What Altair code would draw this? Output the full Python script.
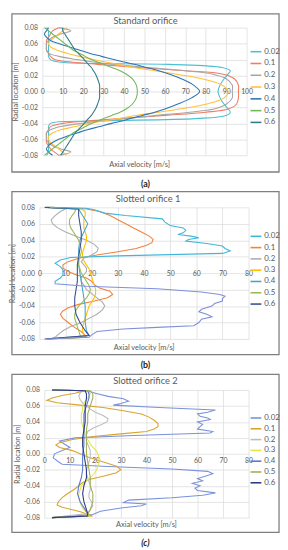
import altair as alt
import pandas as pd

FONT = "Lato"
TXT = "#595959"
GRID = "#D9D9D9"
BOX = "#7F7F7F"

SERIES = ["0.02", "0.1", "0.2", "0.3", "0.4", "0.5", "0.6"]

# ---------------- Panel (a): Standard orifice ----------------
A_Y = [0.08, 0.076, 0.072, 0.068, 0.064, 0.06, 0.056, 0.052, 0.048, 0.044, 0.04, 0.037, 0.034,
       0.03, 0.026, 0.022, 0.016, 0.008, 0.0, -0.008, -0.016, -0.022, -0.026, -0.03, -0.034,
       -0.037, -0.04, -0.044, -0.048, -0.052, -0.056, -0.06, -0.064, -0.068, -0.072, -0.076, -0.08]
A_002 = [2, 3, 3, 3, 3, 3, 3, 3, 3, 3, 4, 8, 62, 88, 92, 91, 89, 87, 86,
         87, 89, 91, 92, 90, 75, 25, 4, 3, 3, 3, 3, 3, 3, 3, 3, 3, 2]
A_01 = [8, 5, 4, 3, 2, 2, 2, 2, 3, 4, 6, 14, 27, 47, 70, 88, 94, 96, 96,
        96, 95, 91, 80, 60, 38, 22, 10, 4, 3, 2, 2, 2, 2, 3, 4, 6, 8]
A_02 = [8, 14, 9, 5, 3, 2, 2, 2, 3, 8, 17, 25, 35, 52, 70, 83, 90, 93, 93,
        93, 90, 84, 72, 56, 40, 29, 19, 9, 4, 2, 2, 2, 3, 5, 9, 14, 8]
A_03 = [12, 10, 8, 6, 4, 3, 4, 7, 12, 18, 25, 31, 37, 45, 55, 65, 78, 88, 91,
        89, 80, 67, 57, 46, 37, 30, 23, 16, 9, 5, 3, 3, 4, 6, 8, 10, 12]
A_04 = [3, 2, 1, 2, 4, 8, 13, 18, 23, 29, 35, 40, 45, 51, 57, 62, 68, 74, 77,
        73, 66, 60, 55, 49, 43, 39, 34, 28, 22, 17, 12, 8, 5, 3, 2, 3, 5]
A_05 = [1, 3, 5, 7, 9, 11, 13, 15, 18, 21, 24, 27, 30, 34, 38, 41, 44, 46, 46.5,
        46, 44, 41, 38, 34, 30, 27, 24, 21, 18, 15, 13, 11, 9, 7, 5, 3, 1]
A_06 = [10, 10, 11, 12, 13, 14, 15, 16, 17.5, 19, 20.5, 21.5, 22.5, 24, 25, 26, 27, 28, 28,
        28, 27, 26, 25, 24, 22.5, 21.5, 20.5, 19, 17.5, 16, 15, 14, 13, 12, 11, 10, 9]
A_COLORS = ["#4BC0D4", "#F07C62", "#A6A6A6", "#FFC23A", "#2E75B6", "#70B85A", "#2F7D8C"]

# ---------------- Panel (b): Slotted orifice 1  (radial location, velocity) ----------------
B_002 = [(0.08, 4), (0.079, 18), (0.077, 21), (0.073, 25), (0.070, 33), (0.066, 47), (0.062, 48),
         (0.058, 50), (0.055, 55), (0.052, 56), (0.049, 55), (0.047, 53), (0.045, 58), (0.043, 61),
         (0.041, 57), (0.039, 56), (0.036, 64), (0.033, 70), (0.030, 71), (0.027, 73), (0.024, 70),
         (0.021, 30), (0.019, 12), (0.016, 8), (0.012, 6), (0.008, 8), (0.004, 9), (-0.002, 9),
         (-0.006, 8), (-0.010, 6), (-0.013, 6), (-0.016, 18), (-0.019, 45), (-0.023, 62),
         (-0.026, 69), (-0.028, 71), (-0.031, 70), (-0.034, 70), (-0.037, 67), (-0.040, 66),
         (-0.044, 62), (-0.047, 61), (-0.050, 64), (-0.053, 66), (-0.056, 62), (-0.060, 61),
         (-0.064, 59), (-0.066, 45), (-0.068, 32), (-0.071, 22), (-0.075, 20), (-0.078, 19), (-0.08, 3)]
B_01 = [(0.08, 4), (0.078, 18), (0.075, 23), (0.07, 27), (0.065, 30), (0.06, 33), (0.055, 36),
        (0.05, 39), (0.045, 42), (0.041, 43.5), (0.037, 43), (0.034, 41), (0.03, 37), (0.026, 30),
        (0.022, 22), (0.018, 15), (0.014, 11), (0.01, 9), (0.006, 9), (0.002, 11), (-0.002, 14),
        (-0.006, 18), (-0.01, 20), (-0.014, 21), (-0.018, 23), (-0.022, 27), (-0.026, 28),
        (-0.03, 26), (-0.034, 21), (-0.038, 15), (-0.042, 11), (-0.046, 9), (-0.05, 8), (-0.055, 9),
        (-0.06, 11), (-0.065, 13), (-0.07, 15.5), (-0.074, 17), (-0.078, 18), (-0.08, 3)]
B_02 = [(0.08, 5), (0.078, 10), (0.075, 8), (0.07, 6), (0.065, 4.5), (0.06, 5), (0.055, 7),
        (0.05, 10), (0.045, 14), (0.04, 18), (0.035, 21), (0.03, 22.5), (0.026, 22), (0.022, 20),
        (0.018, 17), (0.014, 16), (0.01, 17), (0.006, 18), (0.002, 18), (-0.002, 17), (-0.006, 16),
        (-0.01, 16), (-0.015, 17), (-0.02, 18), (-0.025, 20), (-0.03, 22), (-0.035, 24), (-0.04, 25),
        (-0.045, 24), (-0.05, 22), (-0.055, 19), (-0.06, 16), (-0.065, 12), (-0.07, 9), (-0.075, 7),
        (-0.078, 6), (-0.08, 4)]
B_03 = [(0.08, 4), (0.078, 16), (0.075, 17.5), (0.07, 17.5), (0.065, 17), (0.06, 17), (0.055, 17),
        (0.05, 17.5), (0.045, 18), (0.04, 18), (0.035, 17.5), (0.03, 17), (0.025, 16.5), (0.02, 16.5),
        (0.015, 17), (0.01, 18), (0.005, 19), (0.0, 19.5), (-0.005, 20), (-0.01, 20.5), (-0.015, 21),
        (-0.02, 21.5), (-0.025, 21.5), (-0.03, 21), (-0.035, 20), (-0.04, 19), (-0.045, 18.5),
        (-0.05, 18), (-0.055, 17.5), (-0.06, 17), (-0.065, 16.5), (-0.07, 16.5), (-0.075, 17),
        (-0.078, 17), (-0.08, 3)]
B_04 = [(0.08, 3), (0.078, 15), (0.07, 16.5), (0.06, 18.5), (0.05, 17), (0.04, 15.5), (0.03, 15),
        (0.02, 15), (0.01, 15), (0.0, 15.5), (-0.01, 16), (-0.02, 16.5), (-0.03, 17), (-0.04, 17.5),
        (-0.05, 17.5), (-0.06, 17.5), (-0.07, 18), (-0.076, 19), (-0.08, 3)]
B_05 = [(0.08, 3), (0.078, 14), (0.074, 13.5), (0.07, 12.5), (0.065, 11.5), (0.06, 11.5), (0.055, 12),
        (0.05, 13), (0.045, 14), (0.04, 15), (0.035, 15.5), (0.03, 16), (0.025, 16), (0.02, 15.5),
        (0.015, 15), (0.01, 15), (0.005, 15.5), (0.0, 16), (-0.005, 17), (-0.01, 18), (-0.015, 19),
        (-0.02, 19.5), (-0.025, 19), (-0.03, 18), (-0.035, 16.5), (-0.04, 15), (-0.045, 14),
        (-0.05, 13.5), (-0.055, 13.5), (-0.06, 14), (-0.065, 14.5), (-0.07, 15), (-0.075, 15.5),
        (-0.078, 16), (-0.08, 3)]
B_06 = [(0.08, 2), (0.078, 15), (0.07, 15), (0.06, 15.5), (0.05, 16), (0.04, 16), (0.03, 15.5),
        (0.02, 15), (0.01, 14.5), (0.0, 14.5), (-0.01, 14.5), (-0.02, 14), (-0.03, 13.5), (-0.04, 13.5),
        (-0.05, 14), (-0.06, 15.5), (-0.07, 17.5), (-0.076, 19), (-0.08, 2)]
B_COLORS = ["#3EB7DA", "#F2823C", "#ADADAD", "#FFC000", "#45A5D0", "#9DBA5A", "#3B4F93"]
B_002_LOWER = "#7F8FDA"   # the lower jet of the 0.02 profile is drawn in a bluer tone

# ---------------- Panel (c): Slotted orifice 2 ----------------
C_002 = [(0.08, 3), (0.079, 17), (0.076, 20), (0.072, 25), (0.069, 31), (0.066, 33), (0.063, 30),
         (0.061, 27), (0.058, 45), (0.055, 67), (0.052, 64), (0.05, 60), (0.047, 61), (0.045, 64),
         (0.043, 65), (0.04, 60), (0.037, 62), (0.034, 61), (0.031, 60), (0.028, 66), (0.026, 65),
         (0.023, 35), (0.02, 12), (0.016, 6), (0.012, 8), (0.008, 10), (0.004, 7), (0.0, 4),
         (-0.005, 3.5), (-0.01, 5.5), (-0.013, 7), (-0.016, 25), (-0.019, 50), (-0.022, 64),
         (-0.025, 66), (-0.028, 63), (-0.031, 60), (-0.034, 62), (-0.037, 58), (-0.04, 61),
         (-0.043, 59), (-0.046, 60), (-0.049, 67), (-0.052, 62), (-0.055, 50), (-0.058, 33),
         (-0.061, 31), (-0.063, 40), (-0.065, 38), (-0.068, 30), (-0.072, 22), (-0.076, 19), (-0.08, 3)]
C_01 = [(0.08, 3), (0.079, 16), (0.076, 12), (0.073, 7), (0.07, 3), (0.067, 1), (0.064, 5),
        (0.061, 14), (0.058, 23), (0.054, 31), (0.05, 38), (0.046, 41), (0.042, 43), (0.038, 44.5),
        (0.034, 44.5), (0.031, 43), (0.028, 40), (0.025, 30), (0.022, 20), (0.018, 11), (0.014, 6),
        (0.011, 4.5), (0.008, 6), (0.004, 11), (0.0, 14), (-0.004, 17), (-0.008, 21), (-0.012, 25),
        (-0.016, 28.5), (-0.02, 30), (-0.024, 28), (-0.028, 23), (-0.032, 18), (-0.036, 15),
        (-0.04, 13.5), (-0.045, 11.5), (-0.05, 9), (-0.055, 7), (-0.06, 5.5), (-0.064, 5),
        (-0.067, 7), (-0.07, 11), (-0.073, 14.5), (-0.076, 17), (-0.078, 19), (-0.08, 3)]
C_02 = [(0.08, 3), (0.079, 15), (0.076, 14), (0.072, 13.5), (0.068, 14), (0.064, 15), (0.06, 16.5),
        (0.056, 18), (0.052, 20), (0.048, 23), (0.044, 25), (0.04, 24.5), (0.036, 22), (0.032, 19),
        (0.028, 17), (0.024, 16.5), (0.02, 16.5), (0.016, 16.5), (0.012, 17), (0.008, 17.5),
        (0.004, 18), (0.0, 18), (-0.005, 18), (-0.01, 17.5), (-0.015, 17), (-0.02, 16.5),
        (-0.025, 16.5), (-0.03, 17), (-0.035, 17.5), (-0.04, 18), (-0.045, 18), (-0.05, 17.5),
        (-0.055, 17.5), (-0.06, 18.5), (-0.065, 19), (-0.07, 18), (-0.075, 17), (-0.08, 3)]
C_03 = [(0.08, 3), (0.079, 17), (0.076, 18), (0.072, 17.5), (0.068, 16.5), (0.064, 15.5), (0.06, 15),
        (0.055, 15), (0.05, 14.5), (0.045, 14.5), (0.04, 14.5), (0.035, 15), (0.03, 15.5), (0.025, 16),
        (0.02, 16.5), (0.015, 17.5), (0.01, 18.5), (0.005, 20), (0.0, 21), (-0.005, 21.5),
        (-0.01, 21.5), (-0.015, 21), (-0.02, 20.5), (-0.025, 19.5), (-0.03, 18), (-0.035, 16),
        (-0.04, 14.5), (-0.045, 14), (-0.05, 13.5), (-0.055, 13.5), (-0.06, 14), (-0.065, 14.5),
        (-0.07, 15.5), (-0.075, 17), (-0.078, 17.5), (-0.08, 3)]
C_04 = [(0.08, 3), (0.079, 17), (0.075, 17.5), (0.07, 17.5), (0.065, 17), (0.06, 16.5), (0.055, 16),
        (0.05, 15.5), (0.04, 15.5), (0.03, 15.5), (0.02, 15.5), (0.01, 15.5), (0.0, 15), (-0.01, 15),
        (-0.02, 15), (-0.03, 14.5), (-0.04, 13.5), (-0.05, 13), (-0.06, 14), (-0.065, 15),
        (-0.07, 16), (-0.075, 17), (-0.078, 16.5), (-0.08, 3)]
C_05 = [(0.08, 3), (0.079, 18), (0.075, 19), (0.07, 19), (0.065, 18.5), (0.06, 18), (0.055, 17.5),
        (0.05, 17), (0.04, 17), (0.03, 16.5), (0.02, 16.5), (0.01, 16.5), (0.0, 16.5), (-0.01, 17),
        (-0.02, 17.5), (-0.03, 18), (-0.04, 18), (-0.05, 19), (-0.06, 19), (-0.065, 18.5),
        (-0.07, 18), (-0.075, 17), (-0.078, 16), (-0.08, 3)]
C_06 = [(0.08, 3), (0.079, 16), (0.075, 16.5), (0.07, 16.5), (0.06, 16), (0.05, 16), (0.04, 16),
        (0.03, 15.5), (0.02, 15), (0.01, 15), (0.0, 15.5), (-0.01, 16), (-0.02, 16.5), (-0.03, 16.5),
        (-0.04, 15.5), (-0.05, 15), (-0.06, 15.5), (-0.07, 16.5), (-0.075, 17), (-0.078, 17), (-0.08, 3)]
C_COLORS = ["#7A92DC", "#D6A52E", "#BDBDBD", "#E4E64A", "#5877D2", "#A3AE5A", "#2E3A85"]


def frame_common(ys, series_x):
    rows = []
    for s, xs in zip(SERIES, series_x):
        for i, (r, v) in enumerate(zip(ys, xs)):
            rows.append({"s": s, "i": i, "r": r, "v": v})
    return pd.DataFrame(rows)


def frame_pairs(series_pairs):
    rows = []
    for s, pairs in zip(SERIES, series_pairs):
        for i, (r, v) in enumerate(pairs):
            rows.append({"s": s, "i": i, "r": r, "v": v})
    return pd.DataFrame(rows)


DF_A = frame_common(A_Y, [A_002, A_01, A_02, A_03, A_04, A_05, A_06])
DF_B = frame_pairs([B_002, B_01, B_02, B_03, B_04, B_05, B_06])
DF_C = frame_pairs([C_002, C_01, C_02, C_03, C_04, C_05, C_06])

ONE = pd.DataFrame({"k": [0]})

W = 213          # common view width (all panels share the same origin)
BOX_X = (-28, 244)


def text_layer(txt, x, y, size, color=TXT, weight="normal", style="normal"):
    return alt.Chart(pd.DataFrame({"t": [txt]})).mark_text(
        font=FONT, fontSize=size, color=color, fontWeight=weight, fontStyle=style,
        align="center", baseline="middle"
    ).encode(x=alt.value(x), y=alt.value(y), text="t:N")


def panel(df, colors, xmax, xrange, h, box_y, spacer_y2, title, title_xy, xtitle_xy, cap, cap_xy,
          cap_style, legend_y, row_pad, interp, xlab_base, xlab_pad, first_gradient=None):
    x_ax = alt.Axis(values=list(range(0, xmax + 1, 10)), orient="bottom", offset=-h / 2,
                    domain=False, ticks=False, tickSize=0, labelBaseline=xlab_base,
                    labelPadding=xlab_pad, labelFlush=False, labelOverlap=False,
                    labelFontSize=7, labelColor=TXT, labelFont=FONT, title=None,
                    grid=True, gridColor=GRID, gridWidth=0.7)
    y_ax = alt.Axis(values=[-0.08, -0.06, -0.04, -0.02, 0.0, 0.02, 0.04, 0.06, 0.08],
                    labelExpr="replace(format(datum.value, '.2f'), '\u2212', '-')",
                    offset=-xrange[0], domain=False, ticks=False, labelPadding=5, labelFlush=False,
                    labelFontSize=7, labelColor=TXT, labelFont=FONT,
                    title="Radial location [m]", titleFontSize=7.5, titleFont=FONT,
                    titleFontWeight="normal", titleColor=TXT, titlePadding=2,
                    grid=True, gridColor=GRID, gridWidth=0.7)
    xs = alt.Scale(domain=[0, xmax], range=list(xrange), nice=False, zero=False)
    ys = alt.Scale(domain=[-0.08, 0.08], nice=False, zero=False)
    base = alt.Chart(df)
    if first_gradient is not None:
        base = base.transform_filter(alt.datum.s != SERIES[0])
    lines = base.mark_line(strokeWidth=1.1, interpolate=interp).encode(
        x=alt.X("v:Q", scale=xs, axis=x_ax),
        y=alt.Y("r:Q", scale=ys, axis=y_ax),
        color=alt.Color("s:N", sort=SERIES,
                        scale=alt.Scale(domain=SERIES, range=colors),
                        legend=alt.Legend(orient="none", legendX=214, legendY=legend_y,
                                          title=None, symbolType="stroke", symbolSize=121,
                                          symbolStrokeWidth=1.6, labelFontSize=8, labelColor=TXT,
                                          labelFont=FONT, rowPadding=row_pad, padding=0,
                                          labelOffset=2)),
        order=alt.Order("i:Q"),
    )
    layers = []
    if first_gradient is not None:
        top_c, low_c, split = first_gradient
        grad = alt.LinearGradient(
            gradient="linear", x1=0, x2=0, y1=0, y2=1,
            stops=[alt.GradientStop(color=top_c, offset=0),
                   alt.GradientStop(color=top_c, offset=split),
                   alt.GradientStop(color=low_c, offset=split + 0.03),
                   alt.GradientStop(color=low_c, offset=1)])
        first = alt.Chart(df).transform_filter(alt.datum.s == SERIES[0]).mark_line(
            strokeWidth=1.1, interpolate=interp, stroke=grad).encode(
            x=alt.X("v:Q", scale=xs, axis=x_ax), y=alt.Y("r:Q", scale=ys, axis=y_ax),
            order=alt.Order("i:Q"))
        layers.append(first)
    frame = alt.Chart(ONE).mark_rect(fillOpacity=0, stroke=BOX, strokeWidth=1.3).encode(
        x=alt.value(BOX_X[0]), x2=alt.value(BOX_X[1]), y=alt.value(box_y[0]), y2=alt.value(box_y[1]))
    spacer = alt.Chart(ONE).mark_rect(opacity=0).encode(
        x=alt.value(BOX_X[0]), x2=alt.value(BOX_X[1]), y=alt.value(box_y[0]), y2=alt.value(spacer_y2))
    t1 = text_layer(title, title_xy[0], title_xy[1], 9.5)
    t2 = text_layer("Axial velocity [m/s]", xtitle_xy[0], xtitle_xy[1], 7.5)
    t3 = text_layer(cap, cap_xy[0], cap_xy[1], 9, color="#222222", weight="bold", style=cap_style)
    return alt.layer(spacer, frame, lines, *layers, t1, t2, t3).properties(width=W, height=h)


pa = panel(DF_A, A_COLORS, 100, (3, 211), 130, (-14, 147), 166, "Standard orifice",
           (108, -7), (102, 140), "(a)", (108, 159), "normal", 18, 1, "catmull-rom",
           "middle", 0)
pb = panel(DF_B, B_COLORS, 80, (0, 213), 134, (-16, 150), 169, "Slotted orifice 1",
           (110.7, -8.5), (106.7, 143.7), "(b)", (108, 161), "normal", 23, 0.5, "linear",
           "middle", 0, first_gradient=(B_COLORS[0], B_002_LOWER, 0.56))
pc = panel(DF_C, C_COLORS, 80, (5, 213), 130, (-16, 145), 161, "Slotted orifice 2",
           (108, -9), (109, 138), "(c)", (108, 156), "italic", 22, 0, "linear",
           "top", 3)

chart = alt.vconcat(pa, pb, pc, spacing=0).resolve_scale(
    x="independent", y="independent", color="independent"
).resolve_legend(color="independent").properties(padding=0).configure_view(strokeWidth=0)

chart.save("out.html", embed_options={"renderer": "svg", "actions": False})
